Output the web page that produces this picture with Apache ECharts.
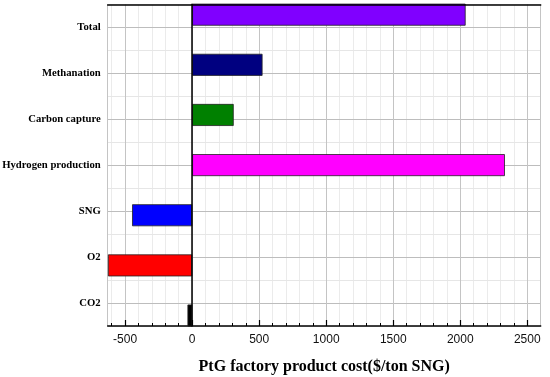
<!DOCTYPE html>
<html><head><meta charset="utf-8">
<script src="https://cdn.jsdelivr.net/npm/echarts@6/dist/echarts.min.js"></script>
<style>html,body{margin:0;padding:0;background:#fff}#c{width:550px;height:377px}</style>
</head><body><div id="c"></div>
<script>
const categories = ['CO2', 'O2', 'SNG', 'Hydrogen production', 'Carbon capture', 'Methanation', 'Total'];
const costValues = [-35, -628, -448, 2333, 310, 525, 2040];
const barColors = ['#000000', '#ff0000', '#0000ff', '#ff00ff', '#008000', '#000080', '#8000ff'];
const xMin = -630, xMax = 2600;
const minorStart = -600, minorStep = 100;
const xTitle = 'PtG factory product cost($/ton SNG)';

const chart = echarts.init(document.getElementById('c'));
const L = 107.7, R = 9.3, W = 550 - L - R;
const pxPerUnit = W / (xMax - xMin);
const minorLeft = L + (minorStart - xMin) * pxPerUnit;
const base = {outerBoundsMode: 'none', containLabel: false};
const G0 = Object.assign({left: L, right: R, top: 4.3, bottom: 51}, base);
const G1 = Object.assign({left: L, right: R, top: -10.4, bottom: 36.4}, base);
const G2 = Object.assign({left: minorLeft, right: R, top: 4.3, bottom: 51}, base);
chart.setOption({
  animation: false,
  grid: [G0, G1, G2],
  xAxis: [
    {gridIndex: 0, type: 'value', position: 'bottom', min: xMin, max: xMax, splitNumber: 6, z: 5,
     axisLine: {onZero: false, lineStyle: {color: '#000', width: 1.5}},
     axisTick: {inside: true, length: 6, lineStyle: {color: '#000', width: 1.2}},
     axisLabel: {color: '#111', fontSize: 12, fontFamily: 'Liberation Sans', margin: 8,
                 showMinLabel: false, showMaxLabel: false, formatter: v => String(v)},
     splitLine: {show: true, lineStyle: {color: '#c4c4c4', width: 1}},
     name: xTitle, nameLocation: 'middle', nameGap: 33,
     nameTextStyle: {fontFamily: 'Liberation Serif', fontWeight: 'bold', fontSize: 16, color: '#000'}},
    {gridIndex: 0, type: 'value', position: 'top', min: xMin, max: xMax, z: 12,
     axisLine: {show: true, onZero: false, lineStyle: {color: '#000', width: 1.5}},
     axisTick: {show: false}, minorTick: {show: false}, axisLabel: {show: false}, splitLine: {show: false}},
    {gridIndex: 1, type: 'value', min: xMin, max: xMax, show: false},
    {gridIndex: 2, type: 'value', position: 'bottom', min: minorStart, max: xMax, interval: minorStep, z: 1,
     axisLine: {show: false, onZero: false},
     axisTick: {show: true, inside: true, length: 3, lineStyle: {color: '#000', width: 1}},
     axisLabel: {show: false},
     splitLine: {show: true, lineStyle: {color: '#ebebeb', width: 1}}}
  ],
  yAxis: [
    {gridIndex: 0, type: 'category', data: categories, position: 'left', offset: -84, z: 11,
     axisLine: {onZero: false, lineStyle: {color: '#000', width: 1.5}},
     axisTick: {length: 3, lineStyle: {color: '#000', width: 1.2}},
     axisLabel: {margin: 91, color: '#000', fontFamily: 'Liberation Serif', fontWeight: 'bold', fontSize: 10.7},
     splitLine: {show: false}},
    {gridIndex: 0, type: 'value', min: 0, max: 14, interval: 1, z: 2,
     axisLine: {show: false}, axisTick: {show: false}, axisLabel: {show: false},
     splitLine: {show: true, lineStyle: {color: ['#e6e6e6', '#bdbdbd'], width: 1}}},
    {gridIndex: 1, type: 'category', data: categories, show: false},
    {gridIndex: 2, type: 'value', min: 0, max: 1, show: false}
  ],
  series: [{
    type: 'bar', xAxisIndex: 2, yAxisIndex: 2, barWidth: 22, z: 10,
    data: costValues.map((v, i) => ({value: v, itemStyle: {color: barColors[i]}})),
    itemStyle: {borderColor: '#222', borderWidth: 0.8}
  }]
});
</script></body></html>
